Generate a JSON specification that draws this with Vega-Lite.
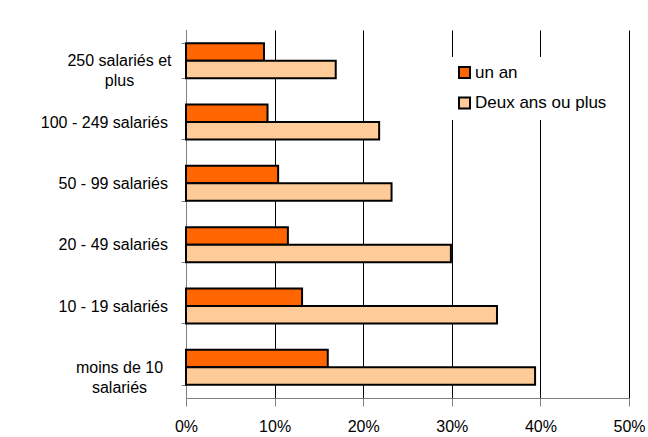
{
  "$schema": "https://vega.github.io/schema/vega-lite/v6.json",
  "width": 443,
  "height": 368,
  "autosize": {"type": "none"},
  "padding": {"left": 186, "top": 30, "right": 19, "bottom": 39},
  "background": "white",
  "config": {"view": {"stroke": null}, "font": "Liberation Sans"},
  "data": {
    "values": [
      {"taille": "250 salariés et|plus", "serie": "un an", "pct": 0.088},
      {"taille": "250 salariés et|plus", "serie": "Deux ans ou plus", "pct": 0.169},
      {"taille": "100 - 249 salariés", "serie": "un an", "pct": 0.092},
      {"taille": "100 - 249 salariés", "serie": "Deux ans ou plus", "pct": 0.218},
      {"taille": "50 - 99 salariés", "serie": "un an", "pct": 0.104},
      {"taille": "50 - 99 salariés", "serie": "Deux ans ou plus", "pct": 0.232},
      {"taille": "20 - 49 salariés", "serie": "un an", "pct": 0.115},
      {"taille": "20 - 49 salariés", "serie": "Deux ans ou plus", "pct": 0.299},
      {"taille": "10 - 19 salariés", "serie": "un an", "pct": 0.131},
      {"taille": "10 - 19 salariés", "serie": "Deux ans ou plus", "pct": 0.351},
      {"taille": "moins de 10|salariés", "serie": "un an", "pct": 0.160},
      {"taille": "moins de 10|salariés", "serie": "Deux ans ou plus", "pct": 0.394}
    ]
  },
  "mark": {"type": "bar", "stroke": "black", "strokeWidth": 2},
  "encoding": {
    "y": {
      "field": "taille",
      "type": "nominal",
      "sort": ["250 salariés et|plus", "100 - 249 salariés", "50 - 99 salariés", "20 - 49 salariés", "10 - 19 salariés", "moins de 10|salariés"],
      "scale": {"paddingInner": 0.43, "paddingOuter": 0.215},
      "axis": {
        "title": null,
        "domainColor": "#808080",
        "tickColor": "#808080",
        "tickSize": 5,
        "tickBand": "extent",
        "labelFontSize": 16,
        "labelColor": "black",
        "labelLimit": 300,
        "labelLineHeight": 20,
        "labelExpr": "split(datum.label, '|')",
        "labelAlign": {"condition": {"test": "datum.value === '250 salariés et|plus' || datum.value === 'moins de 10|salariés'", "value": "center"}, "value": "right"},
        "labelPadding": {"condition": {"test": "datum.value === '250 salariés et|plus' || datum.value === 'moins de 10|salariés'", "value": 62}, "value": 13.5}
      }
    },
    "yOffset": {
      "field": "serie",
      "type": "nominal",
      "sort": ["un an", "Deux ans ou plus"],
      "scale": {"paddingInner": 0, "paddingOuter": 0}
    },
    "x": {
      "field": "pct",
      "type": "quantitative",
      "scale": {"domain": [0, 0.5], "nice": false},
      "axis": {
        "title": null,
        "format": ".0%",
        "values": [0, 0.1, 0.2, 0.3, 0.4, 0.5],
        "grid": true,
        "gridColor": "black",
        "gridWidth": 1,
        "domainColor": "#808080",
        "tickColor": "#808080",
        "tickSize": 8,
        "labelFontSize": 16,
        "labelColor": "black",
        "labelPadding": 12,
        "labelFlush": false
      }
    },
    "color": {
      "field": "serie",
      "type": "nominal",
      "scale": {"domain": ["un an", "Deux ans ou plus"], "range": ["#FF6600", "#FFCC99"]},
      "legend": {
        "orient": "none",
        "legendX": 263,
        "legendY": 27,
        "title": null,
        "fillColor": "white",
        "padding": 7,
        "symbolType": "square",
        "symbolSize": 121,
        "symbolStrokeColor": "black",
        "symbolStrokeWidth": 2,
        "labelFontSize": 17,
        "labelColor": "black",
        "labelOffset": 2,
        "labelLimit": 300,
        "rowPadding": 11.5
      }
    }
  }
}
